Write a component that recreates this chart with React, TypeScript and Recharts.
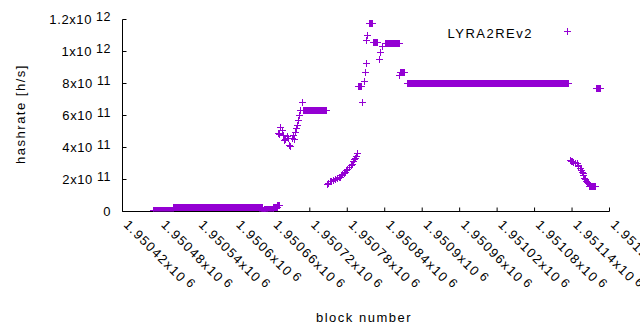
import { ScatterChart, Scatter, XAxis, YAxis, Legend, Label } from 'recharts'

const COLOR = '#9400d3'
const FONT = '"Liberation Sans", Arial, sans-serif'

// axis ticks
const blockTicks = [
  1950420, 1950480, 1950540, 1950600, 1950660, 1950720, 1950780,
  1950840, 1950900, 1950960, 1951020, 1951080, 1951140, 1951200,
]
const hashTicks = [0, 2e11, 4e11, 6e11, 8e11, 1e12, 1.2e12]

// stretches of blocks that all report the same hashrate: [first block, last block, h/s]
const flatRuns: [number, number, number][] = [
  [1950469, 1950501, 6e9],
  [1950502, 1950644, 2.4e10],
  [1950644, 1950647, 1e9],
  [1950647, 1950662, 1.4e10],
  [1950662, 1950668, 2.4e10],
  [1950668, 1950672, 3.6e10],
  [1950710, 1950747, 6.3e11],
  [1950798, 1950802, 7.82e11],
  [1950816, 1950820, 1.176e12],
  [1950822, 1950828, 1.057e12],
  [1950842, 1950863, 1.05e12],
  [1950866, 1950872, 8.69e11],
  [1950876, 1951134, 8.0e11],
  [1951168, 1951178, 1.55e11],
  [1951179, 1951186, 7.67e11],
]

// single blocks: [block, h/s]
const dipPoints: [number, number][] = [
  [1950670, 4.89e11], [1950672, 4.81e11], [1950673, 5.22e11], [1950676, 5.08e11],
  [1950678, 4.76e11], [1950680, 4.45e11], [1950681, 4.51e11], [1950684, 4.66e11],
  [1950686, 4.55e11], [1950687, 4.14e11], [1950689, 4.09e11], [1950692, 4.59e11],
  [1950694, 4.76e11], [1950695, 4.51e11], [1950697, 4.93e11], [1950699, 5.18e11],
  [1950701, 5.35e11], [1950702, 5.7e11], [1950704, 5.97e11], [1950705, 6.33e11],
  [1950708, 6.81e11],
]

const risePoints: [number, number][] = [
  [1950748, 1.67e11], [1950750, 1.78e11], [1950753, 1.88e11], [1950755, 1.9e11],
  [1950758, 1.94e11], [1950761, 2.0e11], [1950764, 2.05e11], [1950767, 2.1e11],
  [1950769, 2.15e11], [1950771, 2.22e11], [1950773, 2.3e11], [1950775, 2.38e11],
  [1950777, 2.46e11], [1950779, 2.55e11], [1950781, 2.63e11], [1950783, 2.72e11],
  [1950784, 2.78e11], [1950786, 2.86e11], [1950788, 2.93e11], [1950790, 3.13e11],
  [1950792, 3.22e11], [1950793, 3.3e11], [1950795, 3.45e11], [1950796, 3.62e11],
]

const peakPoints: [number, number][] = [
  [1950804, 6.81e11], [1950807, 8.1e11], [1950809, 8.7e11], [1950810, 9.25e11],
  [1950811, 10.7e11], [1950812, 10.98e11], [1950831, 9.52e11], [1950834, 9.94e11],
  [1950836, 10.3e11], [1950864, 8.52e11],
]

const fallPoints: [number, number][] = [
  [1951137, 3.2e11], [1951139, 3.15e11], [1951141, 3.1e11], [1951143, 3.05e11],
  [1951145, 3.02e11], [1951148, 2.99e11], [1951150, 2.9e11], [1951151, 2.84e11],
  [1951153, 2.68e11], [1951155, 2.55e11], [1951156, 2.46e11], [1951158, 2.35e11],
  [1951159, 2.26e11], [1951160, 2.05e11], [1951161, 2.0e11], [1951163, 1.88e11],
  [1951165, 1.8e11], [1951167, 1.73e11],
]

const toRows = (pts: [number, number][]) => pts.map(([block, hashrate]) => ({ block, hashrate }))
const singles = toRows([...dipPoints, ...risePoints, ...peakPoints, ...fallPoints])

// gnuplot style "+" marker
function Cross(props: any) {
  const { cx, cy } = props
  if (cx == null || cy == null) return null
  const x = Math.floor(cx) + 0.5
  const y = Math.floor(cy) + 0.5
  return (
    <path
      d={`M${x - 3.5},${y}H${x + 3.5}M${x},${y - 3.5}V${y + 3.5}`}
      stroke={COLOR}
      strokeWidth={1}
      fill="none"
      shapeRendering="crispEdges"
    />
  )
}

function BlockTick(props: any) {
  const { x, y, payload } = props
  const mant = Number((payload.value / 1e6).toFixed(5)).toString()
  const ax = x + 0.5
  const ay = y + 18
  return (
    <text
      x={ax}
      y={ay}
      transform={`rotate(45 ${ax} ${ay})`}
      fontFamily={FONT}
      fontSize={13}
      letterSpacing={1.4}
      fill="#000"
    >
      {mant}x10
      <tspan dx={3} dy={-3} fontSize={12.5}>6</tspan>
    </text>
  )
}

function HashTick(props: any) {
  const { x, y, payload } = props
  const v = payload.value
  const tx = x - 16
  const ty = y + 4
  if (v === 0) {
    return (
      <text x={tx} y={ty} textAnchor="end" fontFamily={FONT} fontSize={13} fill="#000">0</text>
    )
  }
  const exp = Math.floor(Math.log10(v) + 1e-9)
  const mant = Number((v / 10 ** exp).toFixed(3)).toString()
  return (
    <text x={tx + 0.6} y={ty} textAnchor="end" fontFamily={FONT} fontSize={13} letterSpacing={0.6} fill="#000">
      {mant}x10
      <tspan dx={4} dy={-3} fontSize={12.5}>{exp}</tspan>
    </text>
  )
}

const NoTick = () => <g />

function LegendBox() {
  return (
    <svg width={640} height={50} style={{ display: 'block' }}>
      <text x={533} y={37.5} textAnchor="end" fontFamily={FONT} fontSize={13} letterSpacing={1.5} fill="#000">
        LYRA2REv2
      </text>
      <Cross cx={567} cy={31} />
    </svg>
  )
}

export default function App() {
  return (
    <div style={{ position: 'absolute', left: 0, top: 0, background: '#fff' }}>
      <ScatterChart width={640} height={330} margin={{ top: 19.5, right: 30.5, bottom: 0, left: 0 }}>
        <XAxis
          dataKey="block"
          type="number"
          domain={[1950420, 1951200]}
          ticks={blockTicks}
          interval={0}
          height={118.5}
          tickSize={-4}
          tickMargin={0}
          axisLine={{ stroke: '#000' }}
          tickLine={{ stroke: '#000' }}
          tick={<BlockTick />}
          allowDataOverflow
        >
          <Label
            content={() => (
              <text x={364} y={321.5} textAnchor="middle" fontFamily={FONT} fontSize={13} letterSpacing={1.5} fill="#000">
                block number
              </text>
            )}
          />
        </XAxis>
        <XAxis
          xAxisId="top"
          orientation="top"
          type="number"
          domain={[1950420, 1951200]}
          ticks={blockTicks}
          interval={0}
          height={0}
          tickSize={-4}
          axisLine={{ stroke: '#000' }}
          tickLine={{ stroke: '#000' }}
          tick={<NoTick />}
          allowDataOverflow
        />
        <YAxis
          dataKey="hashrate"
          type="number"
          domain={[0, 1.2e12]}
          ticks={hashTicks}
          interval={0}
          width={122.5}
          tickSize={-4}
          tickMargin={0}
          axisLine={{ stroke: '#000' }}
          tickLine={{ stroke: '#000' }}
          tick={<HashTick />}
          allowDataOverflow
        >
          <Label
            content={() => (
              <text
                x={24.5}
                y={114}
                transform="rotate(-90 24.5 114)"
                textAnchor="middle"
                fontFamily={FONT}
                fontSize={13}
                letterSpacing={1.5}
                fill="#000"
              >
                hashrate [h/s]
              </text>
            )}
          />
        </YAxis>
        <YAxis
          yAxisId="right"
          orientation="right"
          type="number"
          domain={[0, 1.2e12]}
          ticks={hashTicks}
          interval={0}
          width={0}
          tickSize={-4}
          axisLine={{ stroke: '#000' }}
          tickLine={{ stroke: '#000' }}
          tick={<NoTick />}
          allowDataOverflow
        />
        <Legend
          layout="horizontal"
          verticalAlign="middle"
          align="center"
          wrapperStyle={{ top: 0, left: 0, width: 640, height: 50 }}
          content={() => <LegendBox />}
        />
        {flatRuns.map(([from, to, v], i) => (
          <Scatter
            key={`run-${i}`}
            name="LYRA2REv2"
            data={[{ block: from, hashrate: v }, { block: to, hashrate: v }]}
            fill={COLOR}
            shape={<Cross />}
            line={{ stroke: COLOR, strokeWidth: 7, shapeRendering: 'crispEdges' }}
            legendType="none"
            isAnimationActive={false}
          />
        ))}
        <Scatter
          name="LYRA2REv2"
          data={singles}
          fill={COLOR}
          shape={<Cross />}
          isAnimationActive={false}
        />
      </ScatterChart>
    </div>
  )
}
